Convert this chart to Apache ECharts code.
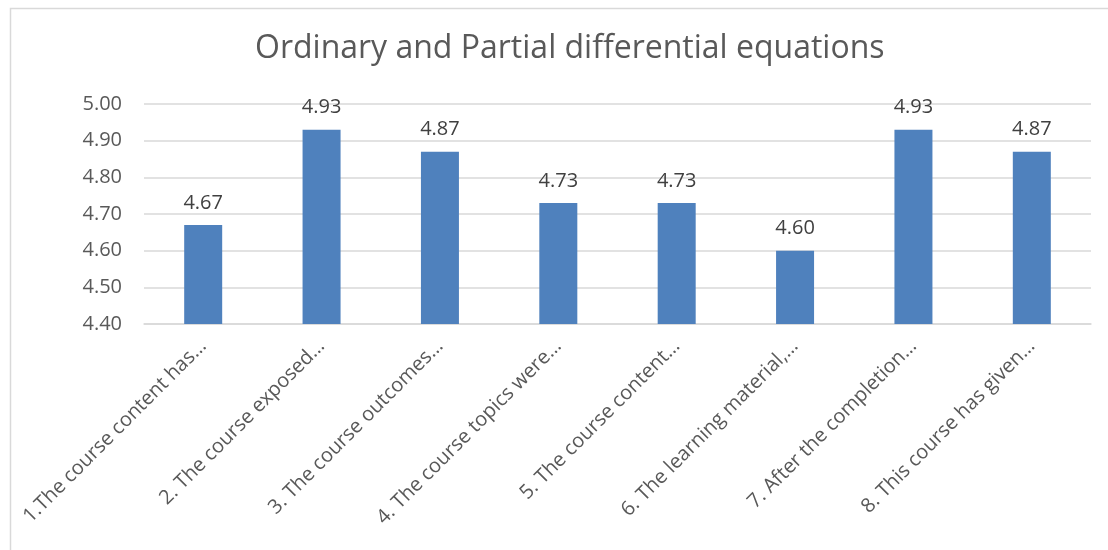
<!DOCTYPE html>
<html><head><meta charset="utf-8">
<script src="https://cdn.jsdelivr.net/npm/echarts@6/dist/echarts.min.js"></script>
<style>html,body{margin:0;padding:0;background:#fff}#c{width:1108px;height:550px}</style>
</head><body><div id="c"></div>
<script>
const categories = [
  "1.The course content has…",
  "2. The course exposed…",
  "3. The course outcomes…",
  "4. The course topics were…",
  "5. The course content…",
  "6. The learning material,…",
  "7. After the completion…",
  "8. This course has given…"
];
const scores = [4.67, 4.93, 4.87, 4.73, 4.73, 4.60, 4.93, 4.87];
const chartTitle = "Ordinary and Partial differential equations";

const chart = echarts.init(document.getElementById('c'));
chart.setOption({
  animation: false,
  backgroundColor: '#fff',
  graphic: [{
    type: 'rect', left: 8, top: 6,
    shape: { width: 1200, height: 600 },
    style: { fill: 'none', stroke: '#d9d9d9', lineWidth: 1.5 },
    silent: true, z: -1
  }],
  title: {
    text: chartTitle, left: 250, top: 28,
    textStyle: { fontFamily: 'Open Sans', fontSize: 32, fontWeight: 'normal', color: '#595959' }
  },
  grid: { left: 144, right: 17, top: 104, bottom: 226, containLabel: false },
  xAxis: {
    type: 'category', data: categories,
    axisLine: { lineStyle: { color: '#d9d9d9', width: 1.5 } },
    axisTick: { show: false },
    axisLabel: {
      rotate: 45, interval: 0, margin: 19,
      fontFamily: 'Open Sans', fontSize: 20, color: '#595959'
    }
  },
  yAxis: {
    type: 'value', min: 4.4, max: 5.0, interval: 0.1,
    axisLine: { show: false }, axisTick: { show: false },
    splitLine: { lineStyle: { color: '#d9d9d9', width: 1.5 } },
    axisLabel: {
      margin: 22, fontFamily: 'Open Sans', fontSize: 20, color: '#595959',
      formatter: v => v.toFixed(2)
    }
  },
  series: [{
    type: 'bar', data: scores, barWidth: 38,
    itemStyle: { color: '#4f81bd' },
    label: {
      show: true, position: 'top', distance: 12,
      fontFamily: 'Open Sans', fontSize: 20, color: '#404040',
      formatter: p => p.value.toFixed(2)
    }
  }]
});
</script></body></html>
